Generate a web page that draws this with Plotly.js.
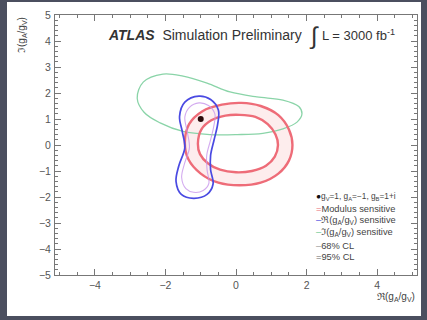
<!DOCTYPE html>
<html><head><meta charset="utf-8">
<script src="https://cdn.plot.ly/plotly-3.0.1.min.js"></script>
<style>
html,body{margin:0;padding:0;background:#4b4f5f;width:427px;height:320px;overflow:hidden}
#chart{position:absolute;left:7px;top:2px;width:414px;height:314px;}
</style>
</head><body><div id="chart"></div>
<script>
// Im(gA/gV)-sensitive contour (green)
const greenX = [-2.8, -2.63, -2.07, -1.5, -0.82, -0.17, 0.59, 1.33, 1.78, 1.87, 1.73, 1.33, 0.76, 0.03, -0.74, -1.5, -2.15, -2.6, -2.8];
const greenY = [1.8, 2.42, 2.73, 2.65, 2.38, 2.04, 1.85, 1.73, 1.48, 1.2, 0.88, 0.62, 0.45, 0.4, 0.4, 0.52, 0.85, 1.25, 1.8];
// Modulus-sensitive ring (red), outer and inner contour
const redOuterX = [-1.45, -1.33, -0.95, -0.4, 0.15, 0.7, 1.2, 1.5, 1.6, 1.5, 1.2, 0.7, 0.1, -0.5, -1.0, -1.35, -1.45];
const redOuterY = [0.1, 0.8, 1.3, 1.55, 1.62, 1.5, 1.15, 0.6, 0.0, -0.6, -1.1, -1.45, -1.55, -1.45, -1.1, -0.55, 0.1];
const redInnerX = [-1.08, -0.98, -0.7, -0.3, 0.1, 0.55, 0.9, 1.12, 1.19, 1.1, 0.85, 0.45, 0.0, -0.45, -0.8, -1.02, -1.08];
const redInnerY = [0.05, 0.6, 0.95, 1.13, 1.16, 1.08, 0.8, 0.4, 0.0, -0.45, -0.8, -1.0, -1.05, -0.95, -0.7, -0.35, 0.05];
// Re(gA/gV)-sensitive contours (blue outer, violet inner)
const blueOuterX = [-1.05, -0.72, -0.5, -0.52, -0.62, -0.72, -0.72, -0.65, -0.82, -1.2, -1.55, -1.7, -1.62, -1.45, -1.52, -1.6, -1.45, -1.05];
const blueOuterY = [1.88, 1.75, 1.35, 0.8, 0.2, -0.4, -0.95, -1.5, -1.9, -2.05, -1.9, -1.4, -0.8, -0.1, 0.5, 1.1, 1.65, 1.88];
const blueInnerX = [-1.05, -0.78, -0.6, -0.63, -0.73, -0.83, -0.82, -0.77, -0.93, -1.2, -1.42, -1.54, -1.46, -1.32, -1.38, -1.45, -1.32, -1.05];
const blueInnerY = [1.62, 1.52, 1.2, 0.72, 0.15, -0.4, -0.95, -1.48, -1.75, -1.82, -1.68, -1.25, -0.72, -0.1, 0.5, 1.08, 1.45, 1.62];
// SM-like point
const pointX = [-1];
const pointY = [1];
// axis ticks
const xTicks = [-4, -2, 0, 2, 4];
const yTicks = [-5, -4, -3, -2, -1, 0, 1, 2, 3, 4, 5];
const legendRows = [
  {mark: '●', color: '#111', text: 'g<sub>V</sub>=1, g<sub>A</sub>=−1, g<sub>B</sub>=1+i'},
  {mark: '=', color: '#e86a74', text: 'Modulus sensitive'},
  {mark: '–', color: '#4a4ae0', text: 'ℜ(g<sub>A</sub>/g<sub>V</sub>) sensitive'},
  {mark: '–', color: '#6cc890', text: 'ℑ(g<sub>A</sub>/g<sub>V</sub>) sensitive'},
  {mark: '–', color: '#999', text: '68% CL'},
  {mark: '=', color: '#666', text: '95% CL'}
];

const ringFillX = redOuterX.concat(redInnerX.slice().reverse());
const ringFillY = redOuterY.concat(redInnerY.slice().reverse());

const traces = [
  {x: ringFillX, y: ringFillY, mode: 'lines', fill: 'toself', fillcolor: 'rgba(252,225,225,0.6)', line: {width: 0}, hoverinfo: 'skip'},
  {x: greenX, y: greenY, mode: 'lines', line: {color: '#8ad4a8', width: 1.3, shape: 'spline'}},
  {x: redOuterX, y: redOuterY, mode: 'lines', line: {color: '#ee6c78', width: 2.4, shape: 'spline'}},
  {x: redInnerX, y: redInnerY, mode: 'lines', line: {color: '#ee6c78', width: 2.4, shape: 'spline'}},
  {x: blueInnerX, y: blueInnerY, mode: 'lines', line: {color: 'rgba(200,150,235,0.8)', width: 1.1, shape: 'spline'}},
  {x: blueOuterX, y: blueOuterY, mode: 'lines', line: {color: '#4a4ae2', width: 1.7, shape: 'spline'}},
  {x: pointX, y: pointY, mode: 'markers', marker: {color: '#2a0a0a', size: 6}}
];

// plot-area pixel helpers (plot area spans x 55..417, y 15..275 in window)
const px = v => (v - 55) / 362;
const py = v => (275 - v) / 260;

const ann = [
  {text: '<b><i>ATLAS</i></b>  Simulation Preliminary', x: px(106), y: py(35), xanchor: 'left', yanchor: 'middle', font: {size: 14, color: '#333'}},
  {text: '∫', x: px(314), y: py(36), xanchor: 'center', yanchor: 'middle', font: {size: 24, color: '#333'}},
  {text: 'L = 3000 fb<sup>-1</sup>', x: px(320), y: py(35), xanchor: 'left', yanchor: 'middle', font: {size: 13, color: '#333'}},
  {text: 'ℜ(g<sub>A</sub>/g<sub>V</sub>)', x: 1, y: py(297), xanchor: 'right', yanchor: 'middle', font: {size: 10, color: '#444'}},
  {text: 'ℑ(g<sub>A</sub>/g<sub>V</sub>)', x: px(14), y: 1, xanchor: 'left', yanchor: 'top', textangle: -90, font: {size: 10, color: '#444'}}
];
const rowY = [196, 209, 220, 232, 246, 257];
legendRows.forEach((r, i) => {
  ann.push({text: '<span style="color:' + r.color + '">' + r.mark + '</span>' + r.text,
    x: px(314), y: py(rowY[i]), xanchor: 'left', yanchor: 'middle', font: {size: i === 0 ? 8.3 : 9.3, color: '#444'}});
});
ann.forEach(a => { a.xref = 'paper'; a.yref = 'paper'; a.showarrow = false; });

const axisCommon = {
  showgrid: false, zeroline: false, showline: true, linecolor: '#777', linewidth: 1,
  mirror: 'ticks', ticks: 'inside', ticklen: 6, tickcolor: '#777',
  tickfont: {family: 'Liberation Sans, Arial, sans-serif', size: 10.5, color: '#555'}
};

const layout = {
  width: 414, height: 314,
  margin: {l: 48, r: 4, t: 13, b: 41},
  paper_bgcolor: '#ffffff', plot_bgcolor: '#ffffff',
  showlegend: false,
  font: {family: 'Liberation Sans, Arial, sans-serif'},
  xaxis: Object.assign({}, axisCommon, {range: [-5.13, 5.13], tickvals: xTicks,
    minor: {dtick: 0.5, tick0: 0, ticks: 'inside', ticklen: 3, tickcolor: '#777'}}),
  yaxis: Object.assign({}, axisCommon, {range: [-5, 5], tickvals: yTicks, ticklabelstandoff: 1,
    minor: {dtick: 0.2, tick0: 0, ticks: 'inside', ticklen: 3, tickcolor: '#777'}}),
  annotations: ann
};

Plotly.newPlot('chart', traces, layout, {staticPlot: true, displayModeBar: false});
</script>
</body></html>
